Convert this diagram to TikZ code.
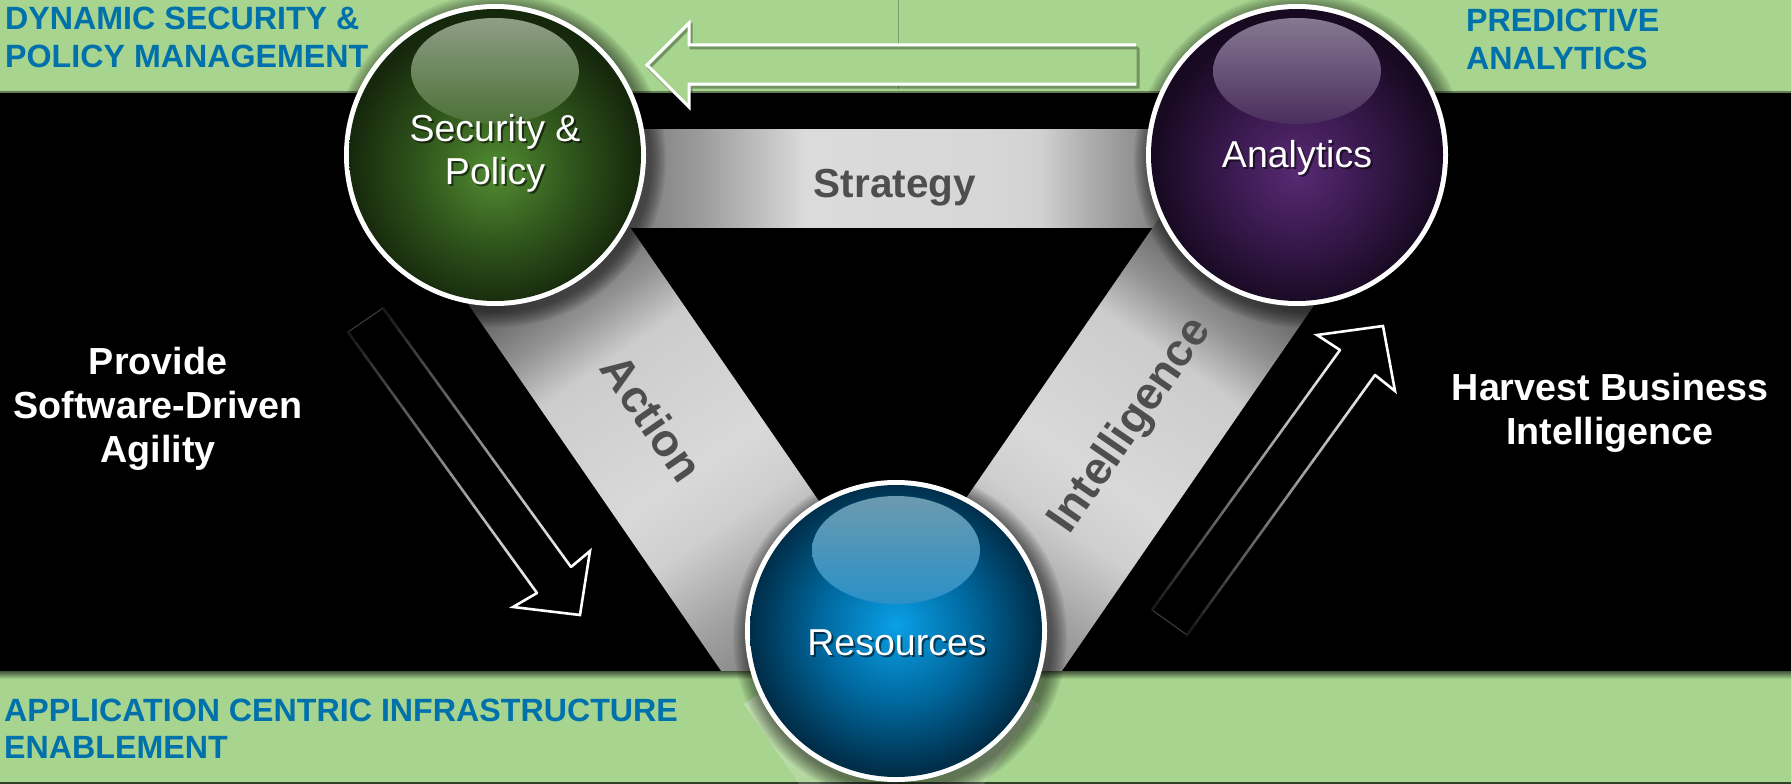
\documentclass[tikz,border=0pt]{standalone}
\usepackage{fontspec}
\setmainfont{Liberation Sans}
\usetikzlibrary{calc}

\definecolor{bandgreen}{RGB}{167,212,143}
\definecolor{hdrblue}{RGB}{0,113,170}
\definecolor{bandtext}{RGB}{78,78,78}
% strategy band greys
\definecolor{sg0}{gray}{0.44}
\definecolor{sg1}{gray}{0.51}
\definecolor{sg2}{gray}{0.61}
\definecolor{sg3}{gray}{0.82}
\definecolor{sg4}{gray}{0.86}
\definecolor{sg5}{gray}{0.84}
\definecolor{sg6}{gray}{0.82}
\definecolor{sg7}{gray}{0.69}
\definecolor{sg8}{gray}{0.54}
% diagonal band greys
\definecolor{ag0}{gray}{0.35}
\definecolor{ag1}{gray}{0.38}
\definecolor{ag2}{gray}{0.58}
\definecolor{ag3}{gray}{0.80}
\definecolor{ag4}{gray}{0.85}
\definecolor{ag5}{gray}{0.81}
\definecolor{ag6}{gray}{0.63}
\definecolor{ag7}{gray}{0.53}
\definecolor{ag8}{gray}{0.48}
\definecolor{ag9}{gray}{0.50}
% balls
\definecolor{gA}{RGB}{82,140,50}
\definecolor{gB}{RGB}{48,86,28}
\definecolor{gC}{RGB}{22,40,12}
\definecolor{pA}{RGB}{88,42,115}
\definecolor{pB}{RGB}{55,24,75}
\definecolor{pC}{RGB}{22,9,32}
\definecolor{bA}{RGB}{10,160,230}
\definecolor{bB}{RGB}{0,104,158}
\definecolor{bC}{RGB}{0,45,72}

\pgfdeclarehorizontalshading{strategyshade}{100bp}{color(0bp)=(sg0); color(25bp)=(sg0); color(34.41bp)=(sg1); color(37.78bp)=(sg2); color(43.39bp)=(sg3); color(44.33bp)=(sg4); color(56.48bp)=(sg5); color(58.98bp)=(sg6); color(61.78bp)=(sg7); color(65.59bp)=(sg8); color(75bp)=(sg0); color(100bp)=(sg0)}
\pgfdeclarehorizontalshading{bandshade}{100bp}{color(0bp)=(ag0); color(25bp)=(ag0); color(34.74bp)=(ag1); color(38.64bp)=(ag2); color(41.88bp)=(ag3); color(50.97bp)=(ag4); color(54.87bp)=(ag5); color(60.06bp)=(ag6); color(63.96bp)=(ag7); color(68.51bp)=(ag8); color(75bp)=(ag9); color(100bp)=(ag9)}
\pgfdeclareradialshading{greenball}{\pgfpoint{0bp}{-3bp}}{color(0bp)=(gA); color(13bp)=(gB); color(25bp)=(gC); color(50bp)=(gC)}
\pgfdeclareradialshading{purpleball}{\pgfpoint{0bp}{-3bp}}{color(0bp)=(pA); color(13bp)=(pB); color(25bp)=(pC); color(50bp)=(pC)}
\pgfdeclareradialshading{blueball}{\pgfpoint{0bp}{1bp}}{color(0bp)=(bA); color(13bp)=(bB); color(25bp)=(bC); color(50bp)=(bC)}

\begin{document}
\begin{tikzpicture}[x=1pt,y=-1pt,
  hdr/.style={font=\fontsize{32.2}{38}\selectfont\bfseries, text=hdrblue, align=left, inner sep=0pt, anchor=north west},
  sidetext/.style={font=\fontsize{37.7}{44}\selectfont\bfseries, text=white, align=center, inner sep=0pt, anchor=north},
  balltext/.style={font=\fontsize{37.5}{43}\selectfont, text=white, align=center, inner sep=0pt},
  ballshadow/.style={balltext, text=black, opacity=0.55},
  bandlabel/.style={font=\fontsize{40.5}{46}\selectfont\bfseries, text=bandtext, inner sep=0pt},
  diaglabel/.style={bandlabel, font=\fontsize{45.5}{52}\selectfont\bfseries},
  ballrim/.style={circle, fill=white, minimum size=302pt, inner sep=0pt},
  outline/.style={white, line width=2.6pt, line cap=round, line join=miter}]
\useasboundingbox (0,0) rectangle (1791,784);
\fill[black] (0,0) rectangle (1791,784);

\coordinate (secc) at (495,155);
\coordinate (anac) at (1297,155);
\coordinate (resc) at (896,631);

% ---- bands
\shade[shading=strategyshade] (495,129) rectangle (1297,227);
\begin{scope}[transform canvas={shift={(550,267)},rotate=-55.4}]
  \shade[shading=bandshade] (-150,-88.5) rectangle (620,88.5);
\end{scope}
\begin{scope}[transform canvas={shift={(1233,267)},rotate=-124.6}]
  \shade[shading=bandshade] (-150,-88.5) rectangle (620,88.5);
\end{scope}

% ---- green bands
\fill[bandgreen] (0,0) rectangle (1791,92);
\fill[bandgreen!60!black] (0,90.5) rectangle (1791,92.5);
\draw[bandgreen!75!black, line width=1pt] (898,0) -- (898,89);
\fill[bandgreen] (0,671) rectangle (1791,784);
\shade[top color=bandgreen!40!black, bottom color=bandgreen] (0,671) rectangle (1791,679);
\fill[bandgreen!30!black] (0,781.5) rectangle (1791,784);

% band ends seen through the lower green band
\begin{scope}
  \clip (0,671) rectangle (1791,784);
  \begin{scope}[transform canvas={shift={(550,267)},rotate=-55.4}]
    \foreach \k in {0,...,9} \fill[white, opacity=0.045] (470,-88.5) rectangle ({620-14*\k},88.5);
  \end{scope}
  \begin{scope}[transform canvas={shift={(1233,267)},rotate=-124.6}]
    \foreach \k in {0,...,9} \fill[white, opacity=0.045] (470,-88.5) rectangle ({620-14*\k},88.5);
  \end{scope}
\end{scope}

% ---- top arrow (pointing left)
\fill[bandgreen] (1136,45) -- (689,45) -- (689,23) -- (647,65) -- (689,107) -- (689,84) -- (1136,84) -- cycle;
\draw[black, opacity=0.3, line width=3pt] (1138,48) -- (691,48) -- (691,26) -- (649,68) -- (691,110) -- (691,87) -- (1138,87) -- (1138,48);
\draw[white, line width=3pt, line join=miter] (1136,45) -- (689,45) -- (689,23) -- (647,65) -- (689,107) -- (689,84) -- (1136,84);

% ---- left diagonal arrow (down-right)
\coordinate (LT1) at (348,332);
\coordinate (LT2) at (383,308);
\coordinate (LI1) at (537,593);
\coordinate (LB1) at (513,607);
\coordinate (LTP) at (580,615);
\coordinate (LB2) at (590,551);
\coordinate (LI2) at (571,567);
\draw[line width=1pt, black!85!yellow] (LT1) -- (LT2);
\foreach \i in {0,...,23}{
  \pgfmathsetmacro\ta{\i/24}
  \pgfmathsetmacro\tb{(\i+1)/24}
  \pgfmathsetmacro\p{8+88*(\i+0.5)/24}
  \draw[outline, color=white!\p!black] ($(LT1)!\ta!(LI1)$) -- ($(LT1)!\tb!(LI1)$);
  \draw[outline, color=white!\p!black] ($(LT2)!\ta!(LI2)$) -- ($(LT2)!\tb!(LI2)$);
}
\draw[outline] (LI1) -- (LB1) -- (LTP) -- (LB2) -- (LI2);

% ---- right diagonal arrow (up-right)
\coordinate (RT1) at (1152,610);
\coordinate (RT2) at (1187,635);
\coordinate (RI1) at (1340,350);
\coordinate (RB1) at (1317,335);
\coordinate (RTP) at (1383,326);
\coordinate (RB2) at (1395,391);
\coordinate (RI2) at (1375,375);
\draw[line width=1pt, black!85!yellow] (RT1) -- (RT2);
\foreach \i in {0,...,23}{
  \pgfmathsetmacro\ta{\i/24}
  \pgfmathsetmacro\tb{(\i+1)/24}
  \pgfmathsetmacro\p{8+88*(\i+0.5)/24}
  \draw[outline, color=white!\p!black] ($(RT1)!\ta!(RI1)$) -- ($(RT1)!\tb!(RI1)$);
  \draw[outline, color=white!\p!black] ($(RT2)!\ta!(RI2)$) -- ($(RT2)!\tb!(RI2)$);
}
\draw[outline] (RI1) -- (RB1) -- (RTP) -- (RB2) -- (RI2);

% ---- circle shadows
\foreach \c in {secc,anac,resc}{
  \foreach \k in {1,...,8} \fill[black, opacity=0.07] ($(\c)+(4,5)$) circle ({(151+2*\k)*1pt});
}

% ---- balls
\node[ballrim] (sec) at (secc) {};
\node[ballrim] (ana) at (anac) {};
\node[ballrim] (res) at (resc) {};
\shade[shading=greenball] (sec.center) circle (146pt);
\shade[shading=purpleball] (ana.center) circle (146pt);
\shade[shading=blueball] (res.center) circle (146pt);
\shade[top color={rgb,255:red,142;green,158;blue,134}, bottom color={rgb,255:red,76;green,112;blue,54}] ($(sec.center)+(0,-84)$) ellipse (84pt and 53pt);
\shade[top color={rgb,255:red,133;green,120;blue,145}, bottom color={rgb,255:red,74;green,46;blue,94}] ($(ana.center)+(0,-84)$) ellipse (84pt and 53pt);
\shade[top color={rgb,255:red,107;green,154;blue,174}, bottom color={rgb,255:red,42;green,144;blue,200}] ($(res.center)+(0,-81)$) ellipse (84pt and 54pt);

% ---- ball labels
\node[ballshadow, anchor=north] (secsh) at (497,116.5) {Security \&\\Policy};
\node[balltext, anchor=north] (seclbl) at (495,114.5) {Security \&\\Policy};
\node[ballshadow, anchor=base] (anash) at (1299,169) {Analytics};
\node[balltext, anchor=base] (analbl) at (1297,167) {Analytics};
\node[ballshadow, anchor=base] (ressh) at (899,657) {Resources};
\node[balltext, anchor=base] (reslbl) at (897,655) {Resources};

% ---- band labels
\node[bandlabel, anchor=base] (strat) at (895,197.5) {Strategy};
\node[diaglabel, rotate=-55.4] (act) at (652,418) {Action};
\node[diaglabel, rotate=55.4] (intel) at (1131,426) {Intelligence};

% ---- side texts
\node[sidetext] (agil) at (158,347) {Provide\\Software-Driven\\Agility};
\node[sidetext] (harv) at (1610,373) {Harvest Business\\Intelligence};

% ---- headers
\node[hdr] (h1) at (5,7) {DYNAMIC SECURITY \&\\POLICY MANAGEMENT};
\node[hdr] (h2) at (1466,9) {PREDICTIVE\\ANALYTICS};
\node[hdr, font=\fontsize{32.2}{37}\selectfont\bfseries] (h3) at (4,698.5) {APPLICATION CENTRIC INFRASTRUCTURE\\ENABLEMENT};
\end{tikzpicture}
\end{document}
